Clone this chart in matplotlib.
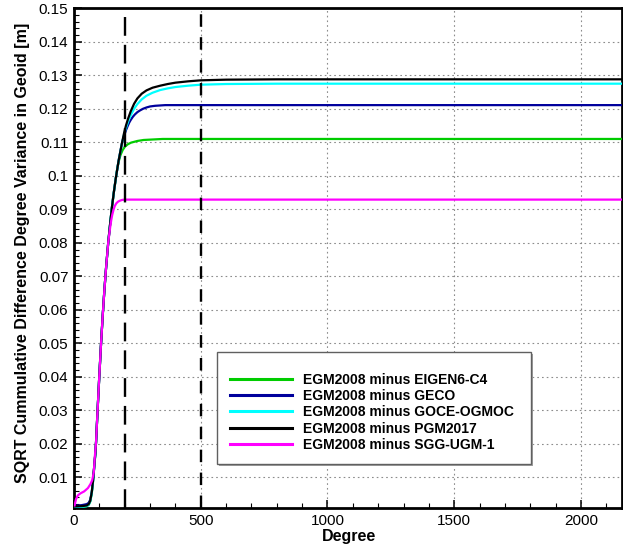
import matplotlib
matplotlib.use("Agg")
import matplotlib.pyplot as plt
from matplotlib.ticker import MultipleLocator, FuncFormatter
from matplotlib.patches import Rectangle

plt.rcParams['font.family'] = ['Liberation Sans', 'DejaVu Sans']
plt.rcParams['lines.scale_dashes'] = False

# Cumulative difference degree variance (sqrt) in geoid heights [m]
deg_eigen = [2, 30, 50, 58, 64, 70, 75, 80, 84, 87, 93, 99, 106, 113, 120, 127, 135,
             143, 150, 157, 165, 170, 175, 180, 184, 192, 201, 212, 225, 250, 275, 300,
             350, 2160]
val_eigen = [0.0011, 0.0012, 0.0014, 0.0018, 0.0028, 0.0052, 0.0087, 0.0132, 0.0168,
             0.0205, 0.0300, 0.0390, 0.0490, 0.0580, 0.0660, 0.0730, 0.0800, 0.0860,
             0.0908, 0.0950, 0.0993, 0.1018, 0.1038, 0.1053, 0.1063, 0.1077, 0.1087,
             0.1094, 0.1099, 0.1104, 0.1107, 0.1108, 0.1110, 0.1110]

deg_geco = [2, 30, 50, 58, 64, 70, 75, 80, 84, 87, 93, 99, 106, 113, 120, 127, 135,
            143, 150, 157, 165, 176, 189, 195, 200, 206, 212, 218, 224, 232, 240, 250,
            260, 272, 286, 300, 320, 360, 2160]
val_geco = [0.0015, 0.0017, 0.0020, 0.0024, 0.0033, 0.0056, 0.0090, 0.0134, 0.0170,
            0.0205, 0.0300, 0.0390, 0.0490, 0.0580, 0.0660, 0.0730, 0.0800, 0.0860,
            0.0908, 0.0950, 0.0993, 0.1045, 0.1097, 0.1113, 0.1125, 0.1138, 0.1149,
            0.1159, 0.1167, 0.1176, 0.1183, 0.1190, 0.1195, 0.1200, 0.1204, 0.1207,
            0.1209, 0.1211, 0.1211]

deg_goce = [2, 30, 50, 58, 64, 70, 75, 80, 84, 87, 93, 99, 106, 113, 120, 127, 135,
            143, 150, 157, 165, 176, 189, 197, 205, 214, 224, 237, 250, 267, 286, 310,
            340, 370, 400, 450, 500, 600, 800, 2160]
val_goce = [0.0011, 0.0012, 0.0014, 0.0018, 0.0028, 0.0052, 0.0087, 0.0132, 0.0168,
            0.0205, 0.0300, 0.0390, 0.0490, 0.0580, 0.0660, 0.0730, 0.0800, 0.0860,
            0.0908, 0.0950, 0.0993, 0.1045, 0.1096, 0.1122, 0.1143, 0.1163, 0.1181,
            0.1200, 0.1214, 0.1228, 0.1239, 0.1248, 0.1256, 0.1261, 0.1265, 0.1269,
            0.1272, 0.1274, 0.1275, 0.1275]

deg_pgm = [2, 30, 50, 58, 64, 70, 75, 80, 84, 87, 93, 99, 106, 113, 120, 127, 135,
           143, 150, 157, 165, 176, 189, 197, 205, 214, 224, 237, 250, 267, 286, 310,
           340, 370, 400, 450, 500, 600, 800, 2160]
val_pgm = [0.0013, 0.0014, 0.0016, 0.0020, 0.0030, 0.0055, 0.0090, 0.0135, 0.0170,
           0.0205, 0.0300, 0.0390, 0.0490, 0.0580, 0.0660, 0.0730, 0.0800, 0.0860,
           0.0908, 0.0950, 0.0993, 0.1045, 0.1097, 0.1126, 0.1150, 0.1172, 0.1193,
           0.1215, 0.1231, 0.1245, 0.1255, 0.1263, 0.1269, 0.1274, 0.1278, 0.1282,
           0.1285, 0.1287, 0.1288, 0.1288]

deg_sgg = [2, 8, 15, 25, 40, 55, 65, 72, 78, 82, 87, 93, 99, 106, 113, 120, 127, 135,
           139, 143, 147, 151, 156, 161, 167, 174, 182, 190, 200, 2160]
val_sgg = [0.0016, 0.0035, 0.0046, 0.0052, 0.0058, 0.0068, 0.0080, 0.0092, 0.0115,
           0.0160, 0.0205, 0.0300, 0.0390, 0.0490, 0.0580, 0.0660, 0.0730, 0.0800,
           0.0825, 0.0848, 0.0868, 0.0884, 0.0899, 0.0910, 0.0918, 0.0923, 0.0926,
           0.0928, 0.0929, 0.0929]

series = [
    ("EGM2008 minus EIGEN6-C4", deg_eigen, val_eigen, "#00cc00"),
    ("EGM2008 minus GECO", deg_geco, val_geco, "#00009c"),
    ("EGM2008 minus GOCE-OGMOC", deg_goce, val_goce, "#00ffff"),
    ("EGM2008 minus PGM2017", deg_pgm, val_pgm, "#000000"),
    ("EGM2008 minus SGG-UGM-1", deg_sgg, val_sgg, "#ff00ff"),
]

ref_degrees = [200, 500]
x_ticks = [0, 500, 1000, 1500, 2000]

W, H = 623, 549
fig = plt.figure(figsize=(W / 100, H / 100), dpi=100)
ax = fig.add_axes([74 / W, 1 - 507.5 / H, (621.5 - 74) / W, (507.5 - 8.3) / H])

for label, d, v, c in series:
    ax.plot(d, v, color=c, lw=1.6, label=label, zorder=3)

ax.axvline(ref_degrees[0], color="black", lw=1.7, ls=(0, (13.5, 6.5)), zorder=4)
ax.axvline(ref_degrees[1], color="black", lw=1.7, ls=(0, (9, 7.5)), zorder=4)

ax.set_xlim(0, 2160)
ax.set_ylim(0.001, 0.15)
ax.set_xticks(x_ticks)
ax.xaxis.set_minor_locator(MultipleLocator(100))
ax.yaxis.set_major_locator(MultipleLocator(0.01))
ax.yaxis.set_minor_locator(MultipleLocator(0.002))
ax.yaxis.set_major_formatter(FuncFormatter(lambda y, p: "%g" % round(y, 3) if y > 0.005 else ""))

ax.grid(True, which="major", color="#8c8c8c", lw=0.8, ls=(0, (1.2, 2.2)), zorder=1)

for s in ax.spines.values():
    s.set_linewidth(2.0)
ax.tick_params(which="both", direction="in", top=False, right=False)
ax.tick_params(which="major", length=6, width=1.1, labelsize=11, color="black")
ax.tick_params(axis="y", which="major", pad=4)
ax.tick_params(axis="x", which="major", pad=4.5)
ax.tick_params(which="minor", length=3.5, width=0.8)

ax.set_xlabel("Degree", fontsize=11.5, fontweight="bold")
ax.set_ylabel("SQRT Cummulative Difference Degree Variance in Geoid [m]",
              fontsize=11.5, fontweight="bold")
ax.xaxis.set_label_coords((348.7 - 74) / (621.5 - 74), -(528.5 - 507.5) / (507.5 - 8.3))
ax.yaxis.set_label_coords(-(74 - 30) / (621.5 - 74), 0.51)

# legend box with a light shadow
fig.patches.append(Rectangle((218.5 / W, 1 - 465.5 / H), (531 - 217) / W, (464 - 352) / H,
                             transform=fig.transFigure, facecolor="#a0a0a0",
                             edgecolor="none", zorder=5))
fig.patches.append(Rectangle((217 / W, 1 - 464 / H), (531 - 217) / W, (464 - 352) / H,
                             transform=fig.transFigure, facecolor="white",
                             edgecolor="#606060", lw=1.0, zorder=6))

leg = ax.legend(loc="upper left", bbox_to_anchor=(230 / W, 1 - 372.5 / H),
                bbox_transform=fig.transFigure, frameon=False, borderpad=0,
                borderaxespad=0, handlelength=4.46, handletextpad=0.79,
                labelspacing=0.17, prop={"size": 10, "weight": "bold"})
for line in leg.get_lines():
    line.set_linewidth(2.2)
leg.set_zorder(7)
leg.remove()
fig.legends.append(leg)
leg.figure = fig

fig.savefig("out.png", dpi=100)
